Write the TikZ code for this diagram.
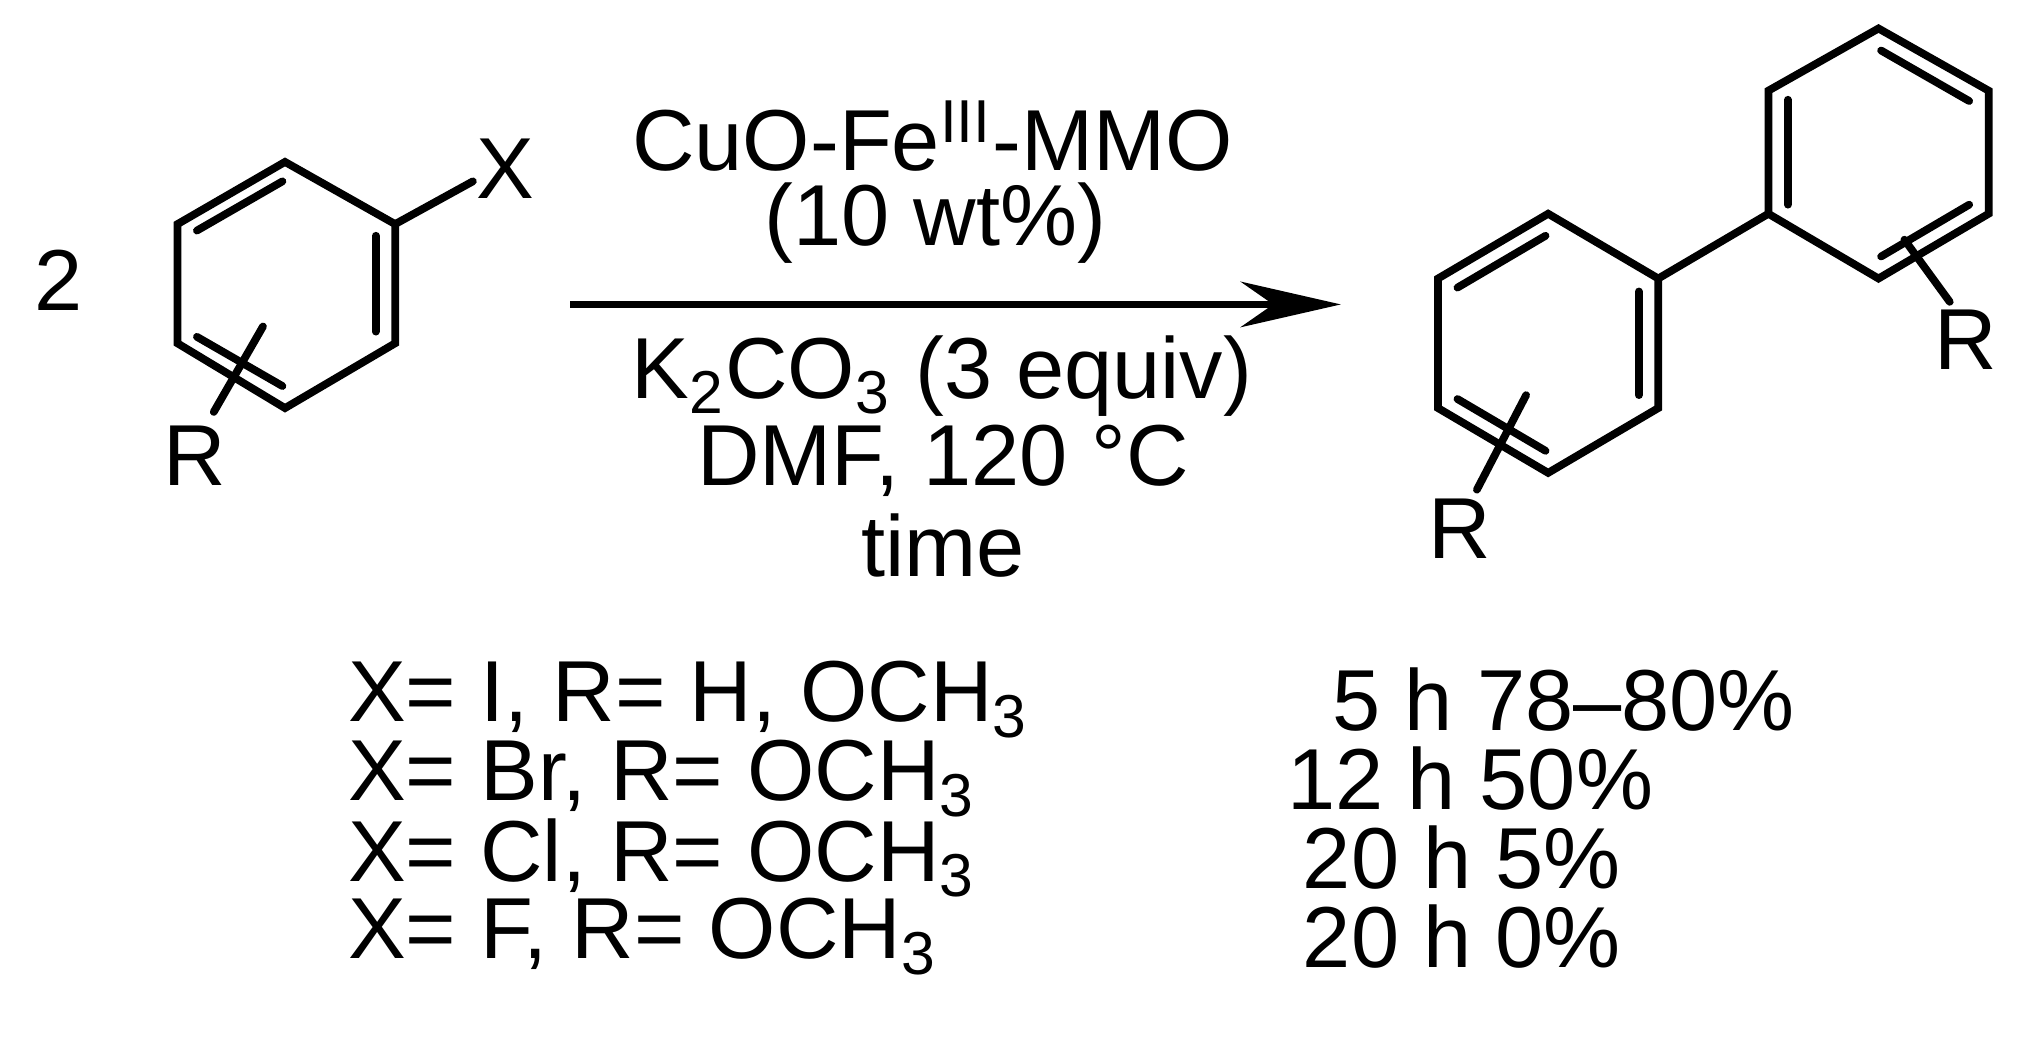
\documentclass[tikz,border=0pt]{standalone}
\usepackage{fontspec}
\setmainfont{Liberation Sans}
\usetikzlibrary{arrows.meta}
\begin{document}
\begin{tikzpicture}[x=0.01cm,y=-0.01cm,
  txt/.style={font=\fontsize{19}{22}\selectfont,inner sep=0pt},
  bond/.style={line width=1.7pt,line cap=round}]
\useasboundingbox (0,0) rectangle (1560,807);
% left ring
\coordinate (a1) at (220,125); \coordinate (a2) at (305,173); \coordinate (a3) at (305,265);
\coordinate (a4) at (220,315); \coordinate (a5) at (137,265); \coordinate (a6) at (137,173);
\draw[bond] (a1)--(a2)--(a3)--(a4)--(a5)--(a6)--cycle;
\draw[bond] (152,178)--(218,140);
\draw[bond] (290,182)--(290,256);
\draw[bond] (152,260)--(218,298);
\coordinate (ax) at (365,140);
\draw[bond] (a2)--(ax);
\node[txt] (X) at (390,130) {X};
\coordinate (ar) at (165,318);
\draw[bond] (203,252)--(ar);
\node[txt] (R1) at (150,352) {R};
\node[txt] (two) at (45,216) {2};
% arrow
\coordinate (s) at (440,235); \coordinate (e) at (1035,235);
\draw[line width=1.5pt,-{Stealth[length=22pt,width=10pt]}] (s)--(e);
\node[txt] (c1) at (720,105) {CuO-Fe\textsuperscript{III}-MMO};
\node[txt] (c2) at (722,172) {(10 wt\%)};
\node[txt] (c3) at (727,290) {K\textsubscript{2}CO\textsubscript{3} (3 equiv)};
\node[txt] (c4) at (728,356) {DMF, 120 °C};
\node[txt] (c5) at (728,421) {time};
% product lower ring
\coordinate (b1) at (1195,165); \coordinate (b2) at (1280,215); \coordinate (b3) at (1280,315);
\coordinate (b4) at (1195,365); \coordinate (b5) at (1110,315); \coordinate (b6) at (1110,215);
\draw[bond] (b1)--(b2)--(b3)--(b4)--(b5)--(b6)--cycle;
\draw[bond] (1125,222)--(1193,182);
\draw[bond] (1265,225)--(1265,305);
\draw[bond] (1125,308)--(1193,348);
% upper ring
\coordinate (u1) at (1450,22); \coordinate (u2) at (1535,70); \coordinate (u3) at (1535,165);
\coordinate (u4) at (1450,215); \coordinate (u5) at (1365,165); \coordinate (u6) at (1365,70);
\draw[bond] (u1)--(u2)--(u3)--(u4)--(u5)--(u6)--cycle;
\draw[bond] (b2)--(u5);
\draw[bond] (1380,77)--(1380,158);
\draw[bond] (1452,39)--(1520,78);
\draw[bond] (1452,198)--(1520,158);
\draw[bond] (1470,185)--(1505,233);
\node[txt] (R2) at (1517,262) {R};
\draw[bond] (1178,305)--(1140,378);
\node[txt] (R3) at (1127,408) {R};
% table
\node[txt,anchor=west] (t1) at (268,540) {X= I, R= H, OCH\textsubscript{3}};
\node[txt,anchor=west] (t2) at (268,601) {X= Br, R= OCH\textsubscript{3}};
\node[txt,anchor=west] (t3) at (268,662) {X= Cl, R= OCH\textsubscript{3}};
\node[txt,anchor=west] (t4) at (268,723) {X= F, R= OCH\textsubscript{3}};
\node[txt,anchor=west] (y1) at (1028,540) {5 h 78–80\%};
\node[txt,anchor=west] (y2) at (993,601) {12 h 50\%};
\node[txt,anchor=west] (y3) at (1005,662) {20 h 5\%};
\node[txt,anchor=west] (y4) at (1005,723) {20 h 0\%};
\end{tikzpicture}
\end{document}
